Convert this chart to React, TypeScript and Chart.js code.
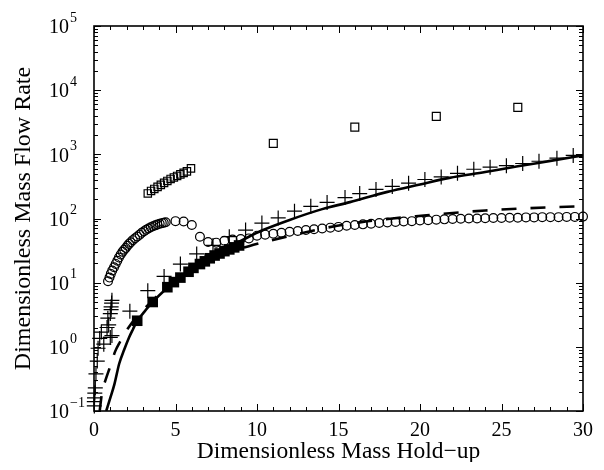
import React, { useEffect, useRef } from 'react';
import { Chart, registerables } from 'chart.js';

Chart.register(...registerables);

const SERIF = '"Liberation Serif", "Times New Roman", Times, serif';

// Axis ticks
const xMajorTicks = [0, 5, 10, 15, 20, 25, 30];
const yTickExponents = [-1, 0, 1, 2, 3, 4, 5];
const yTickExpLabels = ['\u22121', '0', '1', '2', '3', '4', '5'];
const yMinorMultipliers = [2, 3, 4, 5, 6, 7, 8, 9];

// Open squares (large spaced)
const bigSquareX = [11, 16, 21, 26];
const bigSquareY = [1480, 2650, 3900, 5400];

// Open squares (cluster)
const smallSquareX = [3.3, 3.5, 3.7, 3.9, 4.1, 4.3, 4.5, 4.7, 4.9, 5.1, 5.3, 5.5, 5.7, 5.95];
const smallSquareY = [246, 269, 289, 311, 334, 359, 385, 414, 437, 461, 487, 514, 542, 604];

// Open circles
const circleX = [
  0.86, 0.95, 1.03, 1.12, 1.23, 1.33, 1.43, 1.53, 1.64, 1.75, 1.85, 1.95, 2.05, 2.15, 2.25, 2.38,
  2.52, 2.66, 2.8, 2.93, 3.07, 3.2, 3.34, 3.48, 3.62, 3.76, 3.89, 4.03, 4.16, 4.28, 4.4,
  5.0, 5.5, 6.0, 6.5, 7.0, 7.5, 8.0, 8.5, 9.0, 9.5, 10.0, 10.5, 11.0, 11.5, 12.0, 12.5, 13.0,
  13.5, 14.0, 14.5, 15.0, 15.5, 16.0, 16.5, 17.0, 17.5, 18.0, 18.5, 19.0, 19.5, 20.0, 20.5,
  21.0, 21.5, 22.0, 22.5, 23.0, 23.5, 24.0, 24.5, 25.0, 25.5, 26.0, 26.5, 27.0, 27.5, 28.0,
  28.5, 29.0, 29.5, 30.0,
];
const circleY = [
  10.5, 12.0, 13.7, 15.5, 17.4, 19.6, 22.0, 24.6, 27.4, 30.2, 32.6, 34.8, 37.5, 40.2, 42.7, 46,
  49.2, 52.4, 56, 59.8, 63.4, 66.6, 70, 73, 75.6, 78.2, 80.5, 82.6, 84.6, 86, 87.5,
  91, 90, 79, 52, 43, 42, 45, 47, 48, 49, 54, 56, 58, 60, 62, 64, 66,
  68, 70, 72, 74, 77, 79, 81, 83, 85, 87, 88, 90, 91, 93, 94,
  96, 97, 98, 99, 100, 100, 101, 102, 102, 103, 103, 104, 104, 105, 105,
  105, 106, 106, 107,
];

// Plus markers
const plusX = [
  0.02, 0.02, 0.03, 0.05, 0.08, 0.12, 0.2, 0.25, 0.35, 0.45, 0.6, 0.8, 0.9, 1.0, 1.1, 0.85, 1.0,
  1.05, 1.05, 1.08, 1.1,
  2.2, 3.3, 4.3, 5.3, 6.3, 7.3, 8.3, 9.3, 10.3, 11.3, 12.3, 13.3, 14.3, 15.4, 16.3, 17.3, 18.3,
  19.3, 20.3, 21.3, 22.3, 23.3, 24.3, 25.3, 26.3, 27.3, 28.4, 29.4,
];
const plusY = [
  0.12, 0.14, 0.16, 0.19, 0.23, 0.38, 0.6, 0.95, 1.35, 1.7, 1.1, 2.0, 2.2, 1.4, 1.5, 2.8, 3.3,
  3.8, 4.2, 4.8, 5.3,
  3.6, 7.5, 12.5, 19.5, 28, 38, 52, 66, 85, 102, 130, 155, 178, 212, 245, 284, 316,
  355, 405, 445, 505, 585, 630, 665, 720, 780, 870, 960,
];

// Filled squares
const filledX = [2.65, 3.6, 4.5, 4.9, 5.3, 5.8, 6.1, 6.5, 6.8, 7.1, 7.4, 7.7, 8.0, 8.3, 8.6, 8.9];
const filledY = [2.55, 5.0, 8.5, 10.2, 12.0, 14.8, 17, 19.5, 21.5, 24, 26.5, 28.5, 31, 33, 35.5, 38];

// Solid curve
const solidX = [0.75, 1.0, 1.25, 1.55, 1.85, 2.15, 2.4, 2.65, 3.0, 3.6, 4.3, 5.0, 5.5, 6.5, 7.5, 8.5, 9.5, 10.3, 12, 14, 15.7, 18, 20, 21.8, 24, 26, 28, 30];
const solidY = [0.1, 0.16, 0.26, 0.55, 0.9, 1.4, 1.9, 2.55, 3.3, 5.0, 7.5, 10.5, 12.5, 19, 27, 38, 52, 65, 95, 140, 180, 260, 340, 430, 530, 650, 790, 960];

// Dashed curve
const dashX = [0.35, 0.5, 0.7, 1.0, 1.3, 1.6, 2.0, 2.6, 3.5, 4.5, 5.5, 6.5, 7.5, 8.5, 9.5, 10.3, 12.2, 14.3, 16.3, 18.3, 20.4, 22, 24, 26, 28, 30];
const dashY = [0.1, 0.2, 0.3, 0.5, 0.85, 1.2, 1.8, 2.9, 5.0, 8.5, 13, 18, 24, 31, 37, 42, 55, 72, 87, 100, 112, 122, 133, 142, 149, 155];

const pts = (xs: number[], ys: number[]) => xs.map((x, i) => ({ x, y: ys[i] }));

const framePlugin = {
  id: 'frameTicks',
  afterDraw(chart: any) {
    const { ctx, chartArea } = chart;
    const { left, right, top, bottom } = chartArea;
    const xs = chart.scales.x;
    const ys = chart.scales.y;
    ctx.save();
    ctx.strokeStyle = '#000';
    ctx.lineWidth = 1;
    ctx.beginPath();
    for (let v = xs.min; v <= xs.max; v += 1) {
      const p = Math.round(xs.getPixelForValue(v)) + 0.5;
      const len = xMajorTicks.includes(v) ? 7 : 4;
      ctx.moveTo(p, bottom);
      ctx.lineTo(p, bottom - len);
      ctx.moveTo(p, top);
      ctx.lineTo(p, top + len);
    }
    yTickExponents.forEach((e) => {
      const base = Math.pow(10, e);
      const p = Math.round(ys.getPixelForValue(base)) + 0.5;
      ctx.moveTo(left, p);
      ctx.lineTo(left + 7, p);
      ctx.moveTo(right, p);
      ctx.lineTo(right - 7, p);
      if (e < 5) {
        yMinorMultipliers.forEach((m) => {
          const q = Math.round(ys.getPixelForValue(m * base)) + 0.5;
          ctx.moveTo(left, q);
          ctx.lineTo(left + 4, q);
          ctx.moveTo(right, q);
          ctx.lineTo(right - 4, q);
        });
      }
    });
    ctx.stroke();
    ctx.lineWidth = 1.6;
    ctx.strokeRect(left, top, right - left, bottom - top);

    ctx.fillStyle = '#000';
    ctx.textBaseline = 'middle';
    ctx.textAlign = 'left';
    const labelLeft = 41;
    yTickExponents.forEach((e, i) => {
      const p = ys.getPixelForValue(Math.pow(10, e));
      ctx.font = `20px ${SERIF}`;
      ctx.fillText('10', labelLeft, p + 2);
      const w = ctx.measureText('10').width;
      ctx.font = `14px ${SERIF}`;
      ctx.fillText(yTickExpLabels[i], labelLeft + w + 1, p - 8);
    });
    ctx.restore();
  },
};

export default function App() {
  const ref = useRef<HTMLCanvasElement | null>(null);
  useEffect(() => {
    if (!ref.current) return;
    const openMarker = {
      type: 'scatter' as const,
      showLine: false,
      borderColor: '#000',
      backgroundColor: 'rgba(0,0,0,0)',
      borderWidth: 1.2,
      clip: false as any,
    };
    const chart = new Chart(ref.current, {
      type: 'scatter',
      data: {
        datasets: [
          {
            ...openMarker,
            label: 'squares',
            data: pts(bigSquareX, bigSquareY),
            pointStyle: 'rect',
            pointRadius: 5.6,
          },
          {
            ...openMarker,
            label: 'squares cluster',
            data: pts(smallSquareX, smallSquareY),
            pointStyle: 'rect',
            pointRadius: 5.2,
          },
          {
            ...openMarker,
            label: 'circles',
            data: pts(circleX, circleY),
            pointStyle: 'circle',
            pointRadius: 4.4,
          },
          {
            ...openMarker,
            label: 'plus',
            data: pts(plusX, plusY),
            pointStyle: 'cross',
            pointRadius: 7.5,
            borderWidth: 1.2,
          },
          {
            type: 'scatter',
            label: 'filled',
            data: pts(filledX, filledY),
            pointStyle: 'rect',
            pointRadius: 7.5,
            borderColor: '#000',
            backgroundColor: '#000',
            borderWidth: 0,
            showLine: false,
            clip: false as any,
          },
          {
            type: 'line',
            label: 'solid',
            data: pts(solidX, solidY),
            borderColor: '#000',
            borderWidth: 2.6,
            pointRadius: 0,
            fill: false,
            cubicInterpolationMode: 'monotone',
          } as any,
          {
            type: 'line',
            label: 'dashed',
            data: pts(dashX, dashY),
            borderColor: '#000',
            borderWidth: 2.6,
            borderDash: [15, 14],
            pointRadius: 0,
            fill: false,
            cubicInterpolationMode: 'monotone',
          } as any,
        ],
      },
      options: {
        animation: false,
        responsive: false,
        events: [],
        layout: { padding: { top: 18, right: 13, left: 0, bottom: 0 } },
        plugins: { legend: { display: false }, tooltip: { enabled: false } },
        scales: {
          x: {
            type: 'linear',
            min: 0,
            max: 30,
            grid: { display: false },
            border: { display: false },
            ticks: {
              stepSize: 5,
              autoSkip: false,
              maxRotation: 0,
              padding: 0,
              color: '#000',
              font: { family: SERIF, size: 20 },
            },
            title: {
              display: true,
              text: 'Dimensionless Mass Hold\u2212up',
              color: '#000',
              font: { family: SERIF, size: 23.5, lineHeight: 1 },
              padding: { top: 0, bottom: 6 },
            },
            afterFit: (scale: any) => {
              scale.height = 59;
              scale.paddingLeft = 0;
              scale.paddingRight = 0;
            },
          },
          y: {
            type: 'logarithmic',
            min: 0.1,
            max: 100000,
            grid: { display: false },
            border: { display: false },
            ticks: { display: false, autoSkip: false },
            title: {
              display: true,
              text: 'Dimensionless Mass Flow Rate',
              color: '#000',
              font: { family: SERIF, size: 24, lineHeight: 1 },
              padding: { top: 4, bottom: 0 },
            },
            afterFit: (scale: any) => {
              scale.width = 86;
              scale.paddingTop = 0;
              scale.paddingBottom = 0;
            },
          },
        },
      } as any,
      plugins: [framePlugin],
    });
    return () => chart.destroy();
  }, []);
  return (
    <div style={{ width: 588, height: 462, marginBottom: -8 }}>
      <canvas ref={ref} width={588} height={462} style={{ display: 'block' }} />
    </div>
  );
}
